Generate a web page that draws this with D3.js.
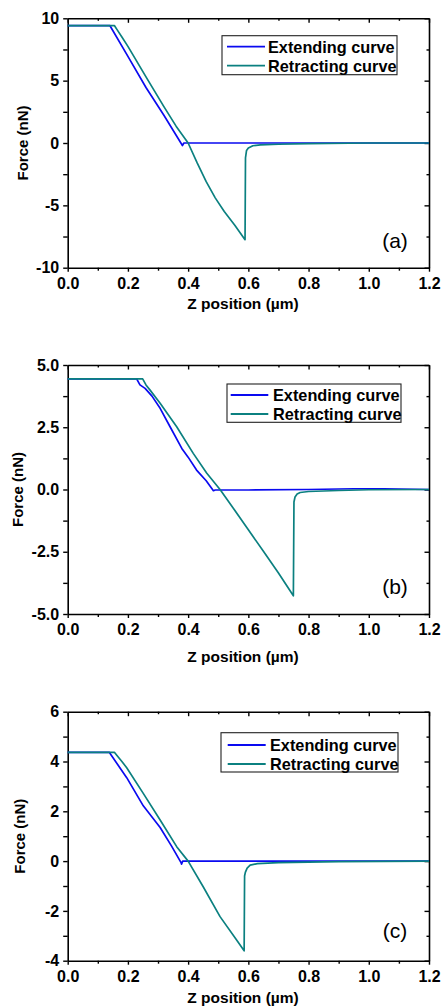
<!DOCTYPE html>
<html><head><meta charset="utf-8">
<script src="https://cdn.jsdelivr.net/npm/d3@7"></script>
<style>
html,body{margin:0;padding:0;background:#fff;}
svg{display:block;}
text{font-family:"Liberation Sans",Arial,sans-serif;}
</style></head>
<body>
<svg id="chart" width="441" height="1006"></svg>
<script>
// ---------- DATA ----------
const xTicks = [0, 0.2, 0.4, 0.6, 0.8, 1.0, 1.2];
const xTickLabels = ["0.0", "0.2", "0.4", "0.6", "0.8", "1.0", "1.2"];
const xTitle = "Z position (\u00b5m)";
const yTitle = "Force (nN)";
const seriesNames = ["Extending curve", "Retracting curve"];
const seriesColors = ["#0a0af0", "#0b8080"];

// panel (a)
const aYTicks = [10, 5, 0, -5, -10];
const aYTickLabels = ["10", "5", "0", "-5", "-10"];
const aExtZ = [0, 0.14, 0.2, 0.26, 0.32, 0.379, 0.381, 0.386, 0.6, 0.8, 1.0, 1.2];
const aExtF = [9.42, 9.42, 6.95, 4.45, 2.2, -0.12, -0.2, 0, 0, 0, 0, 0];
const aRetZ = [0, 0.155, 0.165, 0.18, 0.2, 0.26, 0.32, 0.36, 0.40, 0.43, 0.46, 0.49, 0.52, 0.555, 0.589, 0.5905, 0.594, 0.60, 0.615, 0.64, 0.7, 0.8, 1.0, 1.2];
const aRetF = [9.42, 9.42, 9.05, 8.5, 7.75, 5.3, 2.9, 1.35, 0, -1.6, -3.1, -4.4, -5.5, -6.6, -7.75, -1.2, -0.6, -0.4, -0.22, -0.15, -0.1, -0.05, 0, 0];

// panel (b)
const bYTicks = [5, 2.5, 0, -2.5, -5];
const bYTickLabels = ["5.0", "2.5", "0.0", "-2.5", "-5.0"];
const bExtZ = [0, 0.229, 0.24, 0.257, 0.28, 0.307, 0.34, 0.379, 0.40, 0.428, 0.46, 0.484, 0.49, 0.6, 0.8, 0.95, 1.05, 1.2];
const bExtF = [4.44, 4.44, 4.2, 4.06, 3.75, 3.26, 2.52, 1.65, 1.3, 0.78, 0.35, -0.05, -0.02, -0.02, 0, 0.03, 0.03, 0];
const bRetZ = [0, 0.249, 0.26, 0.273, 0.307, 0.362, 0.417, 0.462, 0.506, 0.55, 0.6, 0.65, 0.7, 0.7495, 0.7515, 0.755, 0.762, 0.772, 0.8, 0.9, 1.0, 1.2];
const bRetF = [4.44, 4.44, 4.2, 4.0, 3.46, 2.52, 1.45, 0.65, 0, -0.75, -1.62, -2.48, -3.35, -4.27, -0.5, -0.3, -0.18, -0.12, -0.08, -0.04, -0.01, 0];

// panel (c)
const cYTicks = [6, 4, 2, 0, -2, -4];
const cYTickLabels = ["6", "4", "2", "0", "-2", "-4"];
const cExtZ = [0, 0.138, 0.196, 0.251, 0.307, 0.345, 0.376, 0.378, 0.382, 0.6, 1.2];
const cExtF = [4.37, 4.37, 3.35, 2.22, 1.35, 0.6, -0.05, -0.12, 0, 0, 0];
const cRetZ = [0, 0.155, 0.165, 0.18, 0.196, 0.251, 0.307, 0.362, 0.40, 0.45, 0.506, 0.561, 0.586, 0.5875, 0.59, 0.596, 0.606, 0.63, 0.7, 0.9, 1.2];
const cRetF = [4.37, 4.37, 4.22, 4.0, 3.75, 2.72, 1.65, 0.58, 0, -1.03, -2.23, -3.17, -3.6, -0.6, -0.45, -0.28, -0.16, -0.1, -0.06, -0.02, 0];

const panelLabels = ["(a)", "(b)", "(c)"];

// ---------- LAYOUT ----------
const panels = [
  {top: 18.3, bottom: 267.7, yDom: [-10, 10], yTicks: aYTicks, yLab: aYTickLabels, yMinorStep: 2.5,
   ext: [aExtZ, aExtF], ret: [aRetZ, aRetF], label: panelLabels[0], labelY: 248, xTitleY: 303,
   yTitleX: 22.5, legend: {x: 222, y: 35.7, w: 175, h: 39, sx1: 227, sx2: 265, tx: 268, r1: 46.7, r2: 65.7}},
  {top: 365, bottom: 614, yDom: [-5, 5], yTicks: bYTicks, yLab: bYTickLabels, yMinorStep: 1.25,
   ext: [bExtZ, bExtF], ret: [bRetZ, bRetF], label: panelLabels[1], labelY: 594, xTitleY: 656,
   yTitleX: 17.5, legend: {x: 227, y: 384, w: 174, h: 38.3, sx1: 230.7, sx2: 268.3, tx: 273, r1: 395, r2: 414}},
  {top: 711.7, bottom: 960.7, yDom: [-4, 6], yTicks: cYTicks, yLab: cYTickLabels, yMinorStep: 1,
   ext: [cExtZ, cExtF], ret: [cRetZ, cRetF], label: panelLabels[2], labelY: 938, xTitleY: 997,
   yTitleX: 20, legend: {x: 221, y: 732.7, w: 177, h: 39.3, sx1: 227.7, sx2: 265.7, tx: 270, r1: 745, r2: 764}}
];
const left = 67.7, right = 429;

const svg = d3.select("#chart");

panels.forEach((p) => {
  const x = d3.scaleLinear().domain([0, 1.2]).range([left, right]);
  const y = d3.scaleLinear().domain(p.yDom).range([p.bottom, p.top]);
  const g = svg.append("g");

  const xMinor = d3.range(0.1, 1.2, 0.2);
  const yMinor = d3.range(p.yDom[0] + p.yMinorStep, p.yDom[1], p.yMinorStep * 2);

  const styleAxis = (sel) => {
    sel.selectAll("path.domain").attr("stroke", "#000").attr("stroke-width", 1.6);
    sel.selectAll(".tick line").attr("stroke", "#000").attr("stroke-width", 1.4);
    sel.selectAll("text").attr("fill", "#000").style("font-size", "16px").style("font-weight", "bold")
      .style("font-family", "'Liberation Sans', Arial, sans-serif");
  };

  // bottom axis (outward)
  g.append("g").attr("transform", `translate(0,${p.bottom})`)
    .call(d3.axisBottom(x).tickValues(xTicks).tickFormat((d, i) => xTickLabels[i]).tickSizeInner(4).tickSizeOuter(0).tickPadding(5.5))
    .call(styleAxis);
  g.append("g").attr("transform", `translate(0,${p.bottom})`)
    .call(d3.axisBottom(x).tickValues(xMinor).tickFormat("").tickSizeInner(3).tickSizeOuter(0))
    .call(styleAxis).select("path.domain").remove();
  // top axis (inward)
  g.append("g").attr("transform", `translate(0,${p.top})`)
    .call(d3.axisTop(x).tickValues(xTicks).tickFormat("").tickSizeInner(-4.5).tickSizeOuter(0))
    .call(styleAxis);
  g.append("g").attr("transform", `translate(0,${p.top})`)
    .call(d3.axisTop(x).tickValues(xMinor).tickFormat("").tickSizeInner(-2.5).tickSizeOuter(0))
    .call(styleAxis).select("path.domain").remove();
  // left axis (outward)
  g.append("g").attr("transform", `translate(${left},0)`)
    .call(d3.axisLeft(y).tickValues(p.yTicks).tickFormat((d, i) => p.yLab[i]).tickSizeInner(4.5).tickSizeOuter(0).tickPadding(4))
    .call(styleAxis);
  g.append("g").attr("transform", `translate(${left},0)`)
    .call(d3.axisLeft(y).tickValues(yMinor).tickFormat("").tickSizeInner(4.5).tickSizeOuter(0))
    .call(styleAxis).select("path.domain").remove();
  // right axis (inward)
  g.append("g").attr("transform", `translate(${right},0)`)
    .call(d3.axisRight(y).tickValues(p.yTicks).tickFormat("").tickSizeInner(-4.5).tickSizeOuter(0))
    .call(styleAxis);
  g.append("g").attr("transform", `translate(${right},0)`)
    .call(d3.axisRight(y).tickValues(yMinor).tickFormat("").tickSizeInner(-2.5).tickSizeOuter(0))
    .call(styleAxis).select("path.domain").remove();

  // curves
  const line = d3.line().x(d => x(d[0])).y(d => y(d[1]));
  const extPts = p.ext[0].map((z, i) => [z, p.ext[1][i]]);
  const retPts = p.ret[0].map((z, i) => [z, p.ret[1][i]]);
  g.append("path").datum(extPts).attr("d", line).attr("fill", "none")
    .attr("stroke", seriesColors[0]).attr("stroke-width", 1.7).attr("stroke-linejoin", "round");
  g.append("path").datum(retPts).attr("d", line).attr("fill", "none")
    .attr("stroke", seriesColors[1]).attr("stroke-width", 1.7).attr("stroke-linejoin", "round");

  // legend
  const L = p.legend;
  g.append("rect").attr("x", L.x).attr("y", L.y).attr("width", L.w).attr("height", L.h)
    .attr("fill", "#fff").attr("stroke", "#222").attr("stroke-width", 1.1);
  [L.r1, L.r2].forEach((ry, i) => {
    g.append("line").attr("x1", L.sx1).attr("x2", L.sx2).attr("y1", ry).attr("y2", ry)
      .attr("stroke", seriesColors[i]).attr("stroke-width", 1.8);
    g.append("text").attr("x", L.tx).attr("y", ry).attr("dy", "0.36em")
      .style("font-size", "16.3px").style("font-weight", "bold").attr("fill", "#000")
      .text(seriesNames[i]);
  });

  // panel label
  g.append("text").attr("x", 395).attr("y", p.labelY).attr("text-anchor", "middle")
    .style("font-size", "21px").attr("fill", "#000").text(p.label);

  // axis titles
  g.append("text").attr("x", 243).attr("y", p.xTitleY).attr("dy", "0.36em")
    .attr("text-anchor", "middle").style("font-size", "15.5px").style("font-weight", "bold").text(xTitle);
  g.append("text").attr("transform", `translate(${p.yTitleX},${(p.top + p.bottom) / 2}) rotate(-90)`)
    .attr("dy", "0.36em").attr("text-anchor", "middle").style("font-size", "15px").style("font-weight", "bold").text(yTitle);
});
</script>
</body></html>
